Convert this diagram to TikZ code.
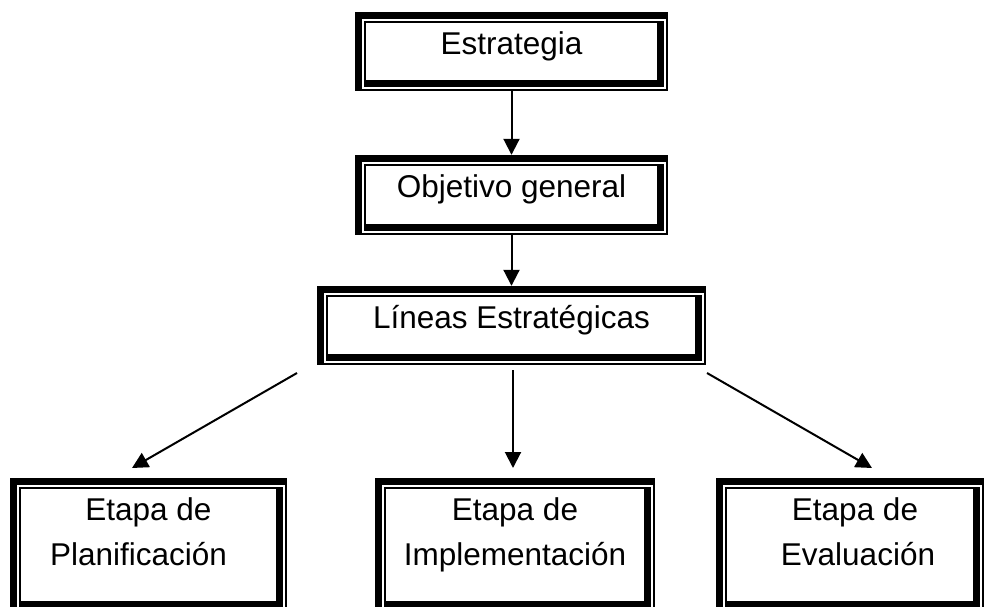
\documentclass[tikz,border=0pt]{standalone}
\usepackage{fontspec}
\setmainfont{Liberation Sans}
\usetikzlibrary{arrows.meta,calc}
\tikzset{
  x=1pt, y=-1pt,
  wbox/.style={rectangle, inner sep=0pt, draw=none},
  lbl/.style={anchor=base, inner sep=0pt, font=\fontsize{31.5}{45}\selectfont},
  conn/.style={line width=2pt, -{Triangle[length=16pt,width=16pt]}},
}
\newcommand\wordframe[1]{%
  \fill (#1.north west) rectangle ($(#1.north east)+(0,7.5)$);
  \fill (#1.north west) rectangle ($(#1.south west)+(7.5,0)$);
  \fill ($(#1.south west)+(0,-1.8)$) rectangle (#1.south east);
  \fill ($(#1.north east)+(-1.8,0)$) rectangle (#1.south east);
  \fill ($(#1.north west)+(9.5,9.5)$) rectangle ($(#1.north east)+(-3.8,11.3)$);
  \fill ($(#1.north west)+(9.5,9.5)$) rectangle ($(#1.south west)+(11.3,-3.8)$);
  \fill ($(#1.south west)+(9.5,-3.8)$) rectangle ($(#1.south east)+(-3.8,-11.3)$);
  \fill ($(#1.north east)+(-11.3,9.5)$) rectangle ($(#1.south east)+(-3.8,-3.8)$);
}
\begin{document}
\begin{tikzpicture}
\useasboundingbox (0,0) rectangle (987,607);
% boxes (outer corners)
\node[wbox, minimum width=313pt, minimum height=79pt] (b1) at (511.5,51.5) {};
\node[wbox, minimum width=313pt, minimum height=80pt] (b2) at (511.5,195) {};
\node[wbox, minimum width=389pt, minimum height=79pt] (b3) at (511.5,325.5) {};
\node[wbox, minimum width=277pt, minimum height=134pt] (b4) at (148.5,545) {};
\node[wbox, minimum width=280pt, minimum height=134pt] (b5) at (515,545) {};
\node[wbox, minimum width=268pt, minimum height=134pt] (b6) at (850,545) {};
\foreach \n in {b1,b2,b3,b4,b5,b6} {\wordframe{\n}}
% texts
\node[lbl] (t1) at ($(b1.north)+(0,43)$) {Estrategia};
\node[lbl] (t2) at ($(b2.north)+(0,43)$) {Objetivo general};
\node[lbl] (t3) at ($(b3.north)+(0,43)$) {Líneas Estratégicas};
\node[lbl] (t4a) at ($(b4.north)+(0,43)$) {Etapa de};
\node[lbl] (t4b) at ($(b4.north)+(-10,88)$) {Planificación};
\node[lbl] (t5a) at ($(b5.north)+(0,43)$) {Etapa de};
\node[lbl] (t5b) at ($(b5.north)+(0,88)$) {Implementación};
\node[lbl] (t6a) at ($(b6.north)+(5,43)$) {Etapa de};
\node[lbl] (t6b) at ($(b6.north)+(8,88)$) {Evaluación};
% connectors
\coordinate (s3) at (297,373);
\coordinate (e3) at (132,468);
\coordinate (s4) at (513,370);
\coordinate (e4) at (513,468);
\coordinate (s5) at (707,373);
\coordinate (e5) at (872,468);
\draw[conn] (b1.south) -- (b2.north);
\draw[conn] (b2.south) -- (b3.north);
\draw[conn] (s3) -- (e3);
\draw[conn] (s4) -- (e4);
\draw[conn] (s5) -- (e5);
\end{tikzpicture}
\end{document}
